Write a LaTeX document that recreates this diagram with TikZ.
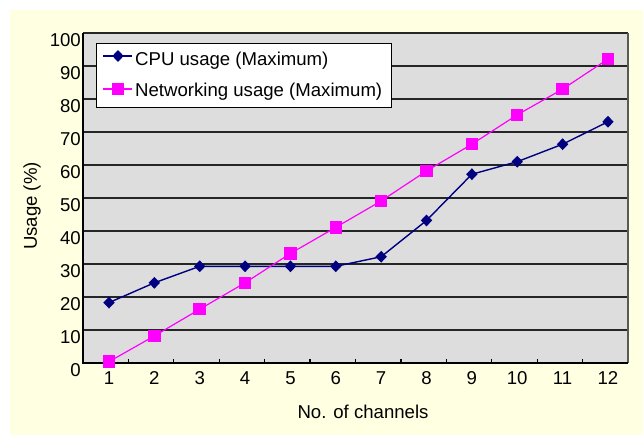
\documentclass[tikz,border=0pt]{standalone}
\usepackage{fontspec}
\setmainfont{Liberation Sans}
\usepackage{tikz}
\usetikzlibrary{shapes.geometric}
\definecolor{chartbg}{RGB}{255,255,226}
\definecolor{plotbg}{RGB}{221,221,221}
\definecolor{cpublue}{RGB}{0,0,128}
\definecolor{netpink}{RGB}{255,0,255}
\tikzstyle{cpumark}=[diamond,fill=cpublue,inner sep=0pt,minimum width=11.5pt,minimum height=12pt]
\tikzstyle{netmark}=[rectangle,fill=netpink,inner sep=0pt,minimum size=12.5pt]
\tikzstyle{cpuline}=[draw=cpublue,line width=1.4pt]
\tikzstyle{netline}=[draw=netpink,line width=1.2pt]
\tikzstyle{gridline}=[draw=black!85,line width=1.1pt]
\tikzstyle{axisline}=[draw=black,line width=1.3pt]
\tikzstyle{charttext}=[inner sep=0pt,font=\fontsize{18.6}{22}\selectfont]

\begin{document}
\begin{tikzpicture}[x=1pt,y=-1pt]
\useasboundingbox (0,0) rectangle (643,435);
\fill[chartbg] (10,10) rectangle (643,435);
\fill[plotbg] (83,33) rectangle (628,363);
% grid and frame
\foreach \v in {1,...,9}
  \draw[gridline] (83,363-33*\v) -- (628,363-33*\v);
\draw[draw=black!85,line width=1.3pt] (83,33) -- (628,33);
\draw[draw=black!65,line width=2.5pt] (628,33) -- (628,363);
\draw[axisline] (83,33) -- (83,363) -- (628,363);
\foreach \j in {1,...,11}
  \draw[axisline] ({83+45.42*\j},363) -- ++(0,-4);
% axis labels
\foreach \v [evaluate=\v as \t using int(10*\v)] in {0,...,10}
  \node[charttext,anchor=east] (y\v) at (81,370-33*\v) {\t};
\foreach \k in {1,...,12}
  \node[charttext] (x\k) at ({109+45.36*(\k-1)},378) {\k};
\node[charttext,rotate=90] (ytitle) at (32,206) {Usage (\%)};
\node[charttext] (xtitle) at (363,412) {No. of channels};
% data
\foreach \k/\c/\n in {1/18.3/0.4,2/24.3/8.2,3/29.3/16.3,4/29.3/24.3,5/29.3/33.2,6/29.3/41.1,
    7/32.2/49.1,8/43.2/58.2,9/57.2/66.3,10/61/75.2,11/66.3/83,12/73.1/92.1} {
  \coordinate (c\k) at ({109+45.36*(\k-1)},{363-3.3*\c});
  \coordinate (n\k) at ({109+45.36*(\k-1)},{363-3.3*\n});
}
\draw[cpuline] (c1) \foreach \k in {2,...,12} { -- (c\k) };
\foreach \k in {1,...,12}
  \node[cpumark] (cm\k) at (c\k) {};
\draw[netline] (n1) \foreach \k in {2,...,12} { -- (n\k) };
\foreach \k in {1,...,12}
  \node[netmark] (nm\k) at (n\k) {};
% legend
\node[draw=black,fill=white,line width=1pt,inner sep=0pt,anchor=north west,
  minimum width=295pt,minimum height=64pt] (legend) at (96,43) {};
\coordinate (lcA) at (103,56);
\coordinate (lcB) at (132,56);
\draw[cpuline] (lcA) -- (lcB);
\node[cpumark] (lcm) at (118,56) {};
\node[charttext,anchor=base west] (lct) at (135,66) {CPU usage (Maximum)};
\coordinate (lnA) at (103,89);
\coordinate (lnB) at (132,89);
\draw[netline] (lnA) -- (lnB);
\node[netmark] (lnm) at (118,89) {};
\node[charttext,anchor=base west] (lnt) at (135,97) {Networking usage (Maximum)};
\end{tikzpicture}
\end{document}
